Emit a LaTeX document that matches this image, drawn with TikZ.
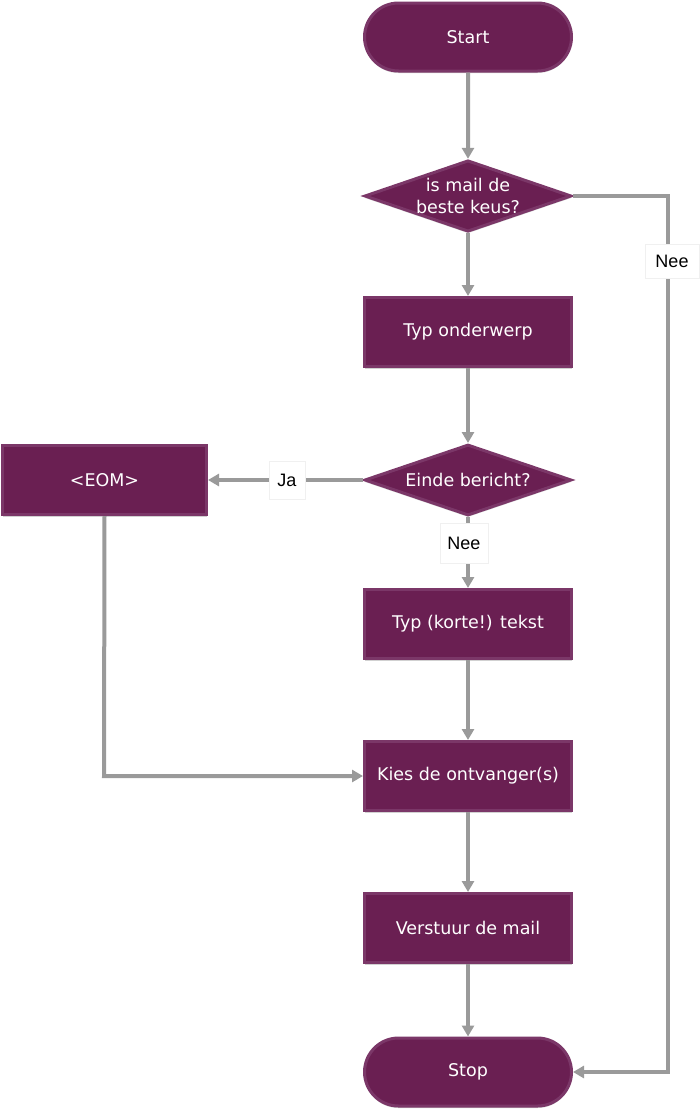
\documentclass[tikz,border=0pt]{standalone}
\usepackage{fontspec}
\setmainfont{DejaVu Sans}
\newfontfamily\labfont{Liberation Sans}
\usetikzlibrary{shapes.geometric,shapes.misc,arrows.meta,shadows}
\definecolor{pfill}{HTML}{6A1F52}
\definecolor{pborder}{HTML}{7B3768}
\definecolor{conn}{HTML}{9A9A9A}
\tikzset{
  base/.style={fill=pfill, draw=pborder, line width=3pt, text=white, font=\fontsize{17.5}{22}\selectfont,
    align=center, inner sep=0pt, drop shadow={shadow xshift=0pt, shadow yshift=-2pt, fill=black, opacity=0.18}},
  term/.style={base, rounded rectangle, minimum width=207pt, minimum height=68pt},
  proc/.style={base, rectangle, minimum width=207pt, minimum height=69pt},
  dec/.style={base, diamond, aspect=2.9, minimum width=207pt, minimum height=71pt, inner sep=0pt},
  conn/.style={draw=conn, line width=4pt, -{Triangle[width=12pt,length=11pt]}},
  lab/.style={fill=white, text=black, font=\labfont\fontsize{18}{21}\selectfont, inner sep=0pt, minimum width=36pt, minimum height=38pt, draw=black!6, line width=0.6pt},
}
\begin{document}
\begin{tikzpicture}[x=1pt,y=-1pt]
\useasboundingbox (0,0) rectangle (700,1111);
\node[term] (start) at (468,37) {Start};
\node[dec] (d1) at (468,196) {is mail de\\beste keus?};
\node[proc] (p1) at (468,332) {Typ onderwerp};
\node[dec] (d2) at (468,480) {Einde bericht?};
\node[proc, minimum width=204pt] (eom) at (104.5,480) {<EOM>};
\node[proc] (p2) at (468,624) {Typ (korte!) tekst};
\node[proc] (p3) at (468,776) {Kies de ontvanger(s)};
\node[proc] (p4) at (468,928) {Verstuur de mail};
\node[term] (stop) at (468,1072) {Stop};
\coordinate (r1) at (668,196);
\coordinate (r2) at (668,1072);
\coordinate (e1) at (104,776);
\draw[conn] (start) -- (d1);
\draw[conn] (d1) -- (p1);
\draw[conn] (p1) -- (d2);
\draw[conn] (d2) -- (eom);
\draw[conn] (d2) -- (p2);
\draw[conn] (p2) -- (p3);
\draw[conn] (p3) -- (p4);
\draw[conn] (p4) -- (stop);
\draw[conn] (d1.east) -- (r1) -- (r2) -- (stop.east);
\draw[conn] (eom.south) -- (e1) -- (p3.west);
\node[lab, minimum width=54pt, minimum height=34pt] (l1) at (672,261) {Nee};
\node[lab] (l2) at (287,480) {Ja};
\node[lab, minimum width=48pt, minimum height=40pt] (l3) at (464,543) {Nee};
\end{tikzpicture}
\end{document}
